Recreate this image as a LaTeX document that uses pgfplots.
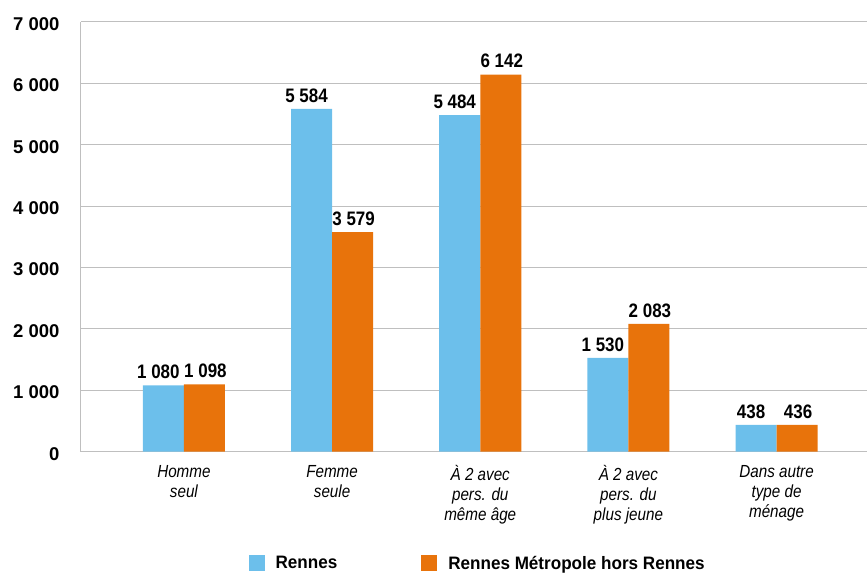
\documentclass[border=0pt]{standalone}
\usepackage{pgfplots}
\pgfplotsset{compat=1.18}
\usepackage{fontspec}
\setmainfont{Liberation Sans}
\newfontfamily\condfont{Liberation Sans}[FakeStretch=0.87]
\newfontfamily\legfont{Liberation Sans}[FakeStretch=0.95]
\definecolor{cblue}{HTML}{6CBFEB}
\definecolor{corange}{HTML}{E8730B}
\definecolor{gridc}{HTML}{BFBFBF}
\begin{document}
\begin{tikzpicture}
\begin{axis}[
 scale only axis, width=786pt, height=430pt,
 xmin=-0.695, xmax=4.607, ymin=0, ymax=7000,
 ybar, bar width=0.277,
 axis x line=bottom, axis y line=left,
 axis line style={draw=gridc, line width=1pt, -},
 ymajorgrids, grid style={draw=gridc, line width=1pt},
 ytick={0,1000,...,7000},
 xtick={0,1,2,3,4},
 xticklabels={{Homme\\seul},{Femme\\seule},{À 2 avec\\pers. du\\même âge},{À 2 avec\\pers. du\\plus jeune},{Dans autre\\type de\\ménage}},
 xticklabel style={align=center, font=\condfont\fontsize{17.5}{20}\selectfont\itshape, yshift=-10pt},
 yticklabel style={font=\fontsize{18.5}{20}\selectfont\bfseries, xshift=-18pt, yshift=-2pt},
 major tick length=0pt, tick style={draw=none},
 /pgf/number format/1000 sep={\ },
 /pgf/number format/assume math mode=true,
 nodes near coords,
 every node near coord/.append style={font=\condfont\fontsize{19.5}{20}\selectfont\bfseries, yshift=3pt, /pgf/number format/1000 sep={\ }, /pgf/number format/assume math mode=true},
 legend style={at={(0.505,-0.26)}, anchor=center, draw=none, legend columns=2,
   font=\legfont\fontsize{18}{20}\selectfont\bfseries,
   /tikz/every odd column/.append style={column sep=9pt},
   /tikz/every even column/.append style={column sep=82pt}},
 legend image code/.code={\fill[#1, draw=none] (0pt,-8pt) rectangle (16pt,8pt);},
 clip=false,
]
\addplot[fill=cblue, draw=none, bar shift=-0.1385, every node near coord/.append style={xshift=-5pt}] coordinates {(0,1080) (1,5584) (2,5484) (3,1530) (4,438)};
\addplot[fill=corange, draw=none, bar shift=0.1385, every node near coord/.append style={xshift=1pt}] coordinates {(0,1098) (1,3579) (2,6142) (3,2083) (4,436)};
\legend{Rennes, Rennes Métropole hors Rennes}
\end{axis}
\path ([xshift=-81pt,yshift=-121pt]current axis.south west) rectangle ([yshift=22pt]current axis.north east);
\end{tikzpicture}
\end{document}
